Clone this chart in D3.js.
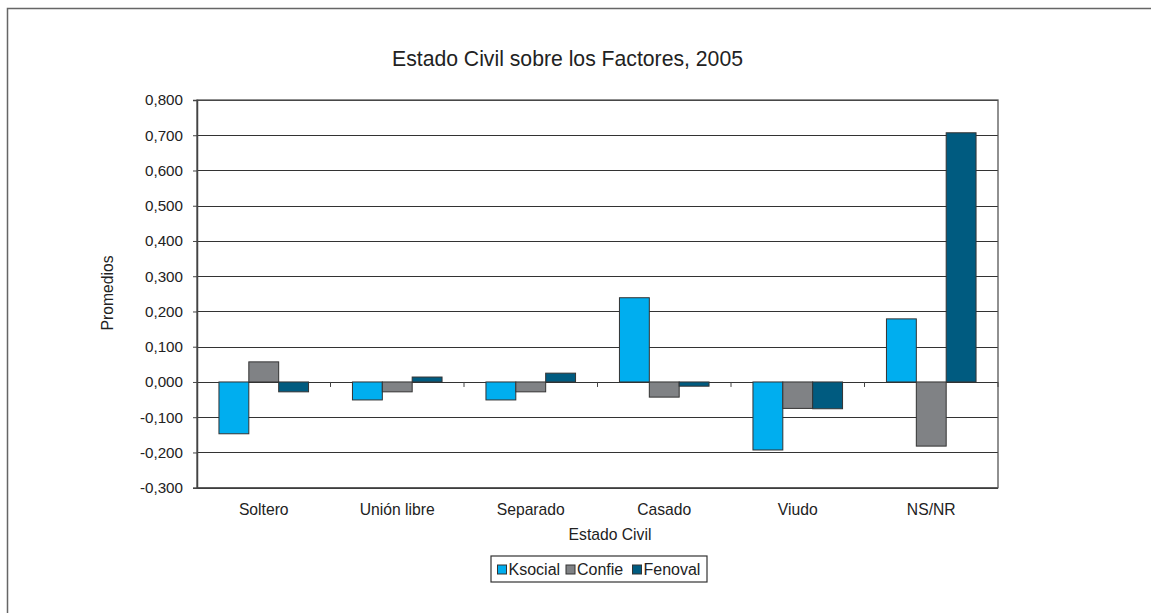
<!DOCTYPE html>
<html><head><meta charset="utf-8">
<script src="https://cdn.jsdelivr.net/npm/d3@7"></script>
<style>body{margin:0;background:#fff}svg{display:block;font-family:"Liberation Sans",Arial,sans-serif}</style>
</head><body>
<script>
const categories = ["Soltero","Unión libre","Separado","Casado","Viudo","NS/NR"];
const seriesNames = ["Ksocial","Confie","Fenoval"];
const ksocial = [-0.147,-0.051,-0.051,0.239,-0.193,0.179];
const confie  = [0.057,-0.028,-0.028,-0.043,-0.075,-0.182];
const fenoval = [-0.028,0.014,0.025,-0.012,-0.076,0.707];
const yTicks = [-0.3,-0.2,-0.1,0,0.1,0.2,0.3,0.4,0.5,0.6,0.7,0.8];
const colors = ["#00aeef","#808285","#005b80"];
const title = "Estado Civil sobre los Factores, 2005";

const W=1151,H=613;
const FF="Liberation Sans, Arial, sans-serif";
const svg=d3.select("body").append("svg").attr("width",W).attr("height",H);
svg.append("path").attr("d","M7.5,613 V8.5 H1151").attr("fill","none").attr("stroke","#666").attr("stroke-width",1.5);

const L=197,R=998,T=100,B=487.7;
const x=d3.scaleBand().domain(categories).range([L,R]);
const y=d3.scaleLinear().domain([-0.3,0.8]).range([B,T]);
const series=[ksocial,confie,fenoval];
const bw=x.bandwidth()/4.47;
const gap=(x.bandwidth()-3*bw)/2;

svg.append("g").selectAll("line").data(yTicks).join("line")
 .attr("x1",L).attr("x2",R).attr("y1",d=>Math.round(y(d))+0.5).attr("y2",d=>Math.round(y(d))+0.5)
 .attr("stroke","#333").attr("stroke-width",1);
svg.append("rect").attr("x",L).attr("y",T).attr("width",R-L).attr("height",B-T)
 .attr("fill","none").attr("stroke","#555").attr("stroke-width",1.3);

series.forEach((vals,si)=>{
  svg.append("g").selectAll("rect").data(categories).join("rect")
   .attr("x",(c)=>x(c)+gap+si*bw)
   .attr("width",bw)
   .attr("y",(c,i)=>y(Math.max(0,vals[i])))
   .attr("height",(c,i)=>Math.abs(y(vals[i])-y(0)))
   .attr("fill",colors[si]).attr("stroke","#333").attr("stroke-width",1);
});

const yAxis=d3.axisLeft(y).tickValues(yTicks).tickSize(4).tickPadding(10)
 .tickFormat(d=>d3.format(".3f")(d).replace(".",",").replace("−","-"));
const gy=svg.append("g").attr("transform",`translate(${L},0)`).call(yAxis)
 .attr("font-family",FF).attr("font-size",15.2);
gy.select(".domain").attr("stroke","#444").attr("stroke-width",1.5);
gy.selectAll(".tick line").attr("stroke","#444");
gy.selectAll("text").attr("fill","#222");

const bounds=categories.slice(1).map(c=>x(c)).concat([R]);
svg.append("g").selectAll("line").data(bounds).join("line")
 .attr("x1",d=>d).attr("x2",d=>d).attr("y1",y(0)).attr("y2",y(0)+5).attr("stroke","#444");
svg.append("g").selectAll("text").data(categories).join("text")
 .attr("x",c=>x(c)+x.bandwidth()/2).attr("y",515).attr("text-anchor","middle")
 .attr("font-size",15.7).attr("fill","#222").text(c=>c);

svg.append("text").attr("x",610).attr("y",540).attr("text-anchor","middle").attr("font-size",15.7).attr("fill","#222").text("Estado Civil");
svg.append("text").attr("transform","translate(113,293) rotate(-90)").attr("text-anchor","middle").attr("font-size",15.7).attr("fill","#222").text("Promedios");
svg.append("text").attr("x",567.5).attr("y",66).attr("text-anchor","middle").attr("font-size",21.2).attr("fill","#222").text(title);

const lg=svg.append("g");
lg.append("rect").attr("x",491).attr("y",556).attr("width",216).attr("height",26).attr("fill","#fff").attr("stroke","#333").attr("stroke-width",1.2);
const lx=[497.5,566,632.5];
seriesNames.forEach((n,i)=>{
  lg.append("rect").attr("x",lx[i]).attr("y",565).attr("width",9).attr("height",9).attr("fill",colors[i]).attr("stroke","#333");
  lg.append("text").attr("x",lx[i]+11).attr("y",575).attr("font-size",16).attr("fill","#222").text(n);
});
</script>
</body></html>
